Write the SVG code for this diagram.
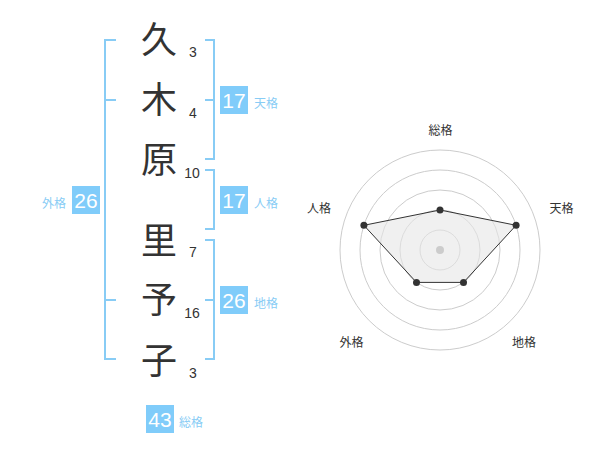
<svg xmlns="http://www.w3.org/2000/svg" width="600" height="470" viewBox="0 0 600 470">
<style>
.br{fill:none;stroke:#88ccf5;stroke-width:2}
.kj{font-family:"Noto Sans CJK JP","Noto Sans CJK SC",sans-serif;font-size:36px;fill:#333;text-anchor:middle}
.num{font-family:"Liberation Sans",Arial,sans-serif;font-size:14px;fill:#333;text-anchor:middle}
.box{fill:#80ccfa}
.bt{font-family:"Liberation Sans",Arial,sans-serif;font-size:21px;fill:#fff;text-anchor:middle}
.lb{font-family:"Noto Sans CJK JP","Noto Sans CJK SC",sans-serif;font-size:12px;fill:#88ccf5}
.rl{font-family:"Noto Sans CJK JP","Noto Sans CJK SC",sans-serif;font-size:12px;fill:#333;text-anchor:middle}
.ring{fill:none;stroke:#ccc;stroke-width:1}
.pt{fill:#333}
</style>
<rect width="600" height="470" fill="#fff"/>
<g id="connectors">
<path class="br" d="M116,40 H105 V359 H116 M105,100 H116 M105,300 H116"/>
<path class="br" d="M205,40 H214 V159 H205 M205,100 H214"/>
<path class="br" d="M205,170 H214 V229 H205"/>
<path class="br" d="M205,240 H214 V359 H205 M205,300 H214"/>
</g>
<g id="names">
<text class="kj" x="159" y="53">久</text>
<text class="kj" x="159" y="113">木</text>
<text class="kj" x="159" y="173">原</text>
<text class="kj" x="159" y="254">里</text>
<text class="kj" x="159" y="313">予</text>
<text class="kj" x="159" y="374">子</text>
</g>
<g id="strokes">
<text class="num" x="193" y="57">3</text>
<text class="num" x="193" y="118">4</text>
<text class="num" x="192" y="178">10</text>
<text class="num" x="193" y="257">7</text>
<text class="num" x="192" y="318">16</text>
<text class="num" x="193" y="378">3</text>
</g>
<g id="tenkaku">
<rect class="box" x="220" y="86" width="28" height="28"/>
<text class="bt" x="234" y="108">17</text>
<text class="lb" x="254" y="108">天格</text>
</g>
<g id="jinkaku">
<rect class="box" x="220" y="186" width="28" height="28"/>
<text class="bt" x="234" y="208">17</text>
<text class="lb" x="254" y="208">人格</text>
</g>
<g id="chikaku">
<rect class="box" x="220" y="286" width="28" height="28"/>
<text class="bt" x="234" y="308">26</text>
<text class="lb" x="254" y="308">地格</text>
</g>
<g id="gaikaku">
<rect class="box" x="72" y="186" width="28" height="28"/>
<text class="bt" x="86" y="208">26</text>
<text class="lb" x="66" y="208" text-anchor="end">外格</text>
</g>
<g id="soukaku">
<rect class="box" x="146" y="405" width="28" height="28"/>
<text class="bt" x="160" y="427">43</text>
<text class="lb" x="179" y="427">総格</text>
</g>
<g id="radar">
<circle class="ring" cx="440" cy="250" r="20"/>
<circle class="ring" cx="440" cy="250" r="40"/>
<circle class="ring" cx="440" cy="250" r="60"/>
<circle class="ring" cx="440" cy="250" r="80"/>
<circle class="ring" cx="440" cy="250" r="100"/>
<polygon points="440,210 516.1,225.3 463.5,282.4 416.5,282.4 363.9,225.3" fill="#e6e6e6" fill-opacity="0.6" stroke="#333" stroke-width="1"/>
<circle cx="440" cy="250" r="4" fill="#ccc"/>
<circle class="pt" cx="440" cy="210" r="3.5"/>
<circle class="pt" cx="516.1" cy="225.3" r="3.5"/>
<circle class="pt" cx="463.5" cy="282.4" r="3.5"/>
<circle class="pt" cx="416.5" cy="282.4" r="3.5"/>
<circle class="pt" cx="363.9" cy="225.3" r="3.5"/>
<text class="rl" x="440.5" y="135">総格</text>
<text class="rl" x="561.5" y="212.5">天格</text>
<text class="rl" x="319" y="212.5">人格</text>
<text class="rl" x="351.5" y="346.5">外格</text>
<text class="rl" x="524" y="346.5">地格</text>
</g>
</svg>
